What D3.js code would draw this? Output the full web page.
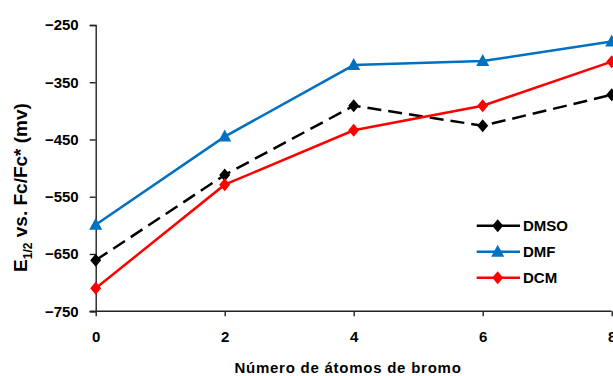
<!DOCTYPE html>
<html><head><meta charset="utf-8">
<script src="https://cdn.jsdelivr.net/npm/d3@7"></script>
<style>body{margin:0;background:#fff;overflow:hidden;}svg{display:block;font-family:"Liberation Sans",Arial,sans-serif;}</style>
</head><body>
<svg id="c" width="613" height="376"></svg>
<script>
const xValues = [0, 2, 4, 6, 8];
const dmso = [-661, -512, -391, -426, -372];
const dmf = [-599, -445, -320, -313, -279];
const dcm = [-710, -529, -434, -391, -314];
const yTicks = [-250, -350, -450, -550, -650, -750];
const seriesNames = ["DMSO", "DMF", "DCM"];

(function () {
const svg = d3.select("#c");
const mLeft = 95.7, mRight = 611.7, mTop = 25, mBottom = 311.2;
const x = d3.scaleLinear().domain([0, 8]).range([mLeft, mRight]);
const y = d3.scaleLinear().domain([-750, -250]).range([mBottom, mTop]);

const series = [
  {name: seriesNames[0], vals: dmso, color: "#000000", dash: "14,7", marker: "diamond"},
  {name: seriesNames[1], vals: dmf, color: "#0070C0", dash: null, marker: "triangle"},
  {name: seriesNames[2], vals: dcm, color: "#FF0000", dash: null, marker: "diamond"}
];

const font = '"Liberation Sans", Arial, sans-serif';
// axes
const yAxis = d3.axisLeft(y).tickValues(yTicks).tickSize(6).tickPadding(11);
const gy = svg.append("g").attr("transform", `translate(${mLeft},0)`).call(yAxis);
const xAxis = d3.axisBottom(x).tickValues(xValues).tickSize(5).tickPadding(15);
const gx = svg.append("g").attr("transform", `translate(0,${mBottom})`).call(xAxis);
[gy, gx].forEach(g => {
  g.select(".domain").attr("stroke", "#222").attr("stroke-width", 1.4);
  g.selectAll(".tick line").attr("stroke", "#222").attr("stroke-width", 1.4);
  g.selectAll(".tick text").attr("fill", "#000").attr("font-size", 15).attr("font-weight", "bold")
    .attr("font-family", font);
});
gx.select(".domain").attr("d", `M${mLeft-6},0H${mRight}`);

const sym = {
  diamond: "M0,-6.5L5.5,0L0,6.5L-5.5,0Z",
  triangle: "M0,-7L6.5,5L-6.5,5Z"
};

const line = d3.line().x((d, i) => x(xValues[i])).y(d => y(d));
series.forEach(s => {
  svg.append("path").datum(s.vals).attr("d", line)
    .attr("fill", "none").attr("stroke", s.color).attr("stroke-width", 2.5)
    .attr("stroke-dasharray", s.dash);
  svg.selectAll(null).data(s.vals).enter().append("path")
    .attr("d", sym[s.marker])
    .attr("transform", (d, i) => `translate(${x(xValues[i])},${y(d)})`)
    .attr("fill", s.color);
});

// legend
const lg = svg.append("g");
series.forEach((s, i) => {
  const ly = 225.7 + i * 26;
  lg.append("line").attr("x1", 476.7).attr("x2", 520).attr("y1", ly).attr("y2", ly)
    .attr("stroke", s.color).attr("stroke-width", 2.5);
  lg.append("path").attr("d", sym[s.marker]).attr("transform", `translate(497.7,${ly})`).attr("fill", s.color);
  lg.append("text").attr("x", 523).attr("y", ly).attr("dy", "0.36em")
    .attr("font-size", 15).attr("font-weight", "bold").text(s.name);
});

// axis titles
svg.append("text").attr("x", 348).attr("y", 373.3).attr("text-anchor", "middle")
  .attr("font-size", 15).attr("letter-spacing", 0.75).attr("font-weight", "bold").text("Número de átomos de bromo");
const yt = svg.append("text").attr("transform", "translate(27,187.5) rotate(-90)")
  .attr("text-anchor", "middle").attr("font-size", 19).attr("font-weight", "bold");
yt.append("tspan").text("E");
yt.append("tspan").attr("font-size", 12).attr("dy", 5).text("1/2");
yt.append("tspan").attr("dy", -5).text(" vs. Fc/Fc* (mv)");
})();
</script>
</body></html>
